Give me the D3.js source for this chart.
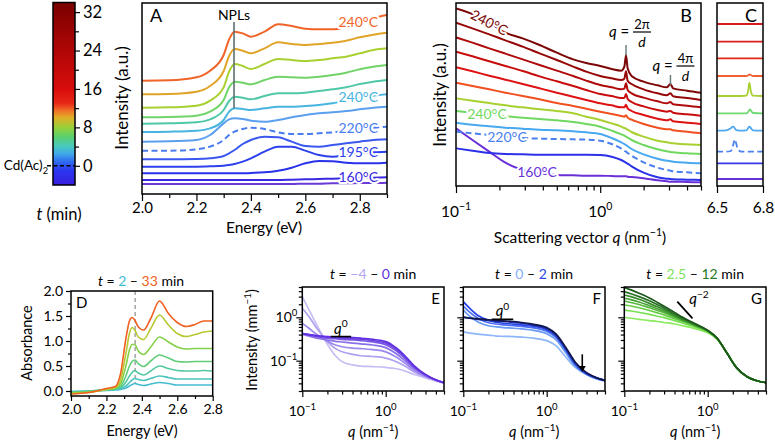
<!DOCTYPE html>
<html><head><meta charset="utf-8">
<script src="https://cdn.jsdelivr.net/npm/d3@7"></script>
<style>body{margin:0;background:#fff}</style></head>
<body><svg id="c" width="775" height="443"></svg>
<script>
// ---------------- DATA ----------------
// colour bar (time in min)
const cbDomain = [-4, 34];
const cbMajor = [0, 8, 16, 24, 32];
const cbMinor = [4, 12, 20, 28];
const cbStopT = [-4, -1, 1, 2.5, 4, 6, 8, 10, 11.5, 13, 16, 24, 34];
const cbStopC = ['#3a1ee0','#2a36ee','#3070f0','#40a8e8','#48c8c0','#58d070','#98d038','#e0b028','#f07028','#e82818','#d80c0c','#b00606','#7a0000'];

// Panel A : spectra (a.u., stacked)
const aEnergy = [2.0,2.1,2.2,2.25,2.3,2.32,2.34,2.37,2.4,2.45,2.5,2.55,2.6,2.65,2.7,2.75,2.8,2.85,2.9];
const aS1 = [343,344,353,373,420,467,490,485,475,490,512,507,499,497,497,505,519,531,540];
const aS2 = [302,303,310,327,372,417,438,433,425,440,458,453,450,453,457,463,473,481,487];
const aS3 = [262,263,268,283,323,370,393,387,378,393,408,405,402,405,410,415,425,435,440];
const aS4 = [233,234,238,250,285,323,340,337,332,345,355,353,352,355,360,367,377,385,390];
const aS5 = [214,215,218,227,255,282,295,292,287,297,305,305,307,312,317,323,333,340,345];
const aS6 = [189,190,193,200,225,250,260,258,255,260,265,265,267,270,275,283,292,298,302];
const aS7 = [160,161,165,180,215,227,230,228,223,220,225,233,240,245,248,252,257,262,265];
const aS8 = [133,133,137,145,165,180,190,198,202,198,188,183,183,185,188,192,197,202,205];
const aS9 = [107,107,108,110,117,125,135,153,165,175,173,160,147,145,150,155,160,165,167];
const aS10 = [85,85,85,86,88,90,93,100,110,130,145,145,133,120,115,120,125,128,130];
const aS11 = [65,65,65,65,65,65,65,65,66,68,73,82,95,102,101,97,95,95,97];
const aS12 = [45,45,45,45,45,45,45,45,45,45,45,46,47,48,49,50,51,52,53];
const aS13 = [33,33,33,33,33,33,33,33,33,33,33,33,34,34,35,35,36,36,37];
const aSeries = [aS1,aS2,aS3,aS4,aS5,aS6,aS7,aS8,aS9,aS10,aS11,aS12,aS13];
const aColors = ['#f06428','#e0a428','#a8d030','#70d468','#50c8a8','#48b4e0','#5aa0ee','#4a7cf0','#3a58f0','#2c40ee','#2832ea','#3a2ae2','#6a3ad8'];
const aDashed = [7];
const aTicks = [2.0,2.2,2.4,2.6,2.8];
const aMinor = [2.1,2.3,2.5,2.7,2.9];
const aLabelText = ['240°C','240°C','220°C','195°C','160°C'];
const aLabelSeries = [0,5,7,9,11];
const aLabelValue = [519,294,201,129,54];
const nplEnergy = 2.338, nplFrom = 260, nplTo = 519;

// Panel B : SAXS (a.u., stacked)
const bQ = [0.1,0.13,0.17,0.22,0.29,0.38,0.5,0.65,0.8,1.0,1.2,1.4,1.47,1.51,1.55,1.65,2.0,2.5,2.9,3.07,3.2,4.0,5.0];
const bS1 = [530,513,487,457,440,420,397,377,366,357,348,343,355,389,350,327,310,299,293,303,290,283,277];
const bS2 = [487,470,452,434,415,395,375,355,340,327,320,315,319,341,313,303,287,275,269,275,266,261,255];
const bS3 = [443,427,410,394,377,360,343,327,313,300,293,287,289,305,285,275,262,251,245,249,242,238,233];
const bS4 = [400,386,371,357,342,326,311,297,285,273,267,261,261,273,258,249,236,225,220,222,217,212,208];
const bS5 = [353,341,328,316,303,290,277,265,255,245,239,233,233,241,230,222,210,199,194,197,191,187,183];
const bS6 = [307,297,287,277,267,257,246,237,229,220,213,207,205,209,202,196,183,172,167,167,164,160,155];
const bS7 = [260,253,246,239,233,227,222,215,205,195,185,175,171,169,166,159,145,133,128,126,125,122,120];
const bS8 = [222,217,212,206,202,198,194,189,183,175,163,152,148,145,142,135,120,107,101,99,98,95,93];
const bS9 = [187,181,176,172,169,166,164,161,158,153,141,128,123,120,116,108,92,79,73,71,70,67,65];
const bS10 = [160,155,150,145,141,139,138,137,136,133,123,109,103,100,96,88,68,52,45,43,41,38,35];
const bS11 = [110,103,96,93,92,91,91,91,91,90,85,75,70,67,64,56,37,23,19,18,17,16,15];
const bS12 = [170,135,100,67,45,35,30,29,28,28,27,26,26,26,25,24,20,14,11,10,10,9,8];
const bSeries = [bS1,bS2,bS3,bS4,bS5,bS6,bS7,bS8,bS9,bS10,bS11,bS12];
const bColors = ['#7c0606','#960808','#b00a0a','#c80c0c','#de1212','#f05020','#a8d030','#70d860','#48a8f0','#4a80f0','#2c30e8','#6a30d8'];
const bDashed = [9];
const bMajor = [0.1, 1];
const bMinor = [0.2,0.3,0.4,0.5,0.6,0.7,0.8,0.9,2,3,4,5];
const bPeak1 = 1.51, bPeak2 = 3.07;

// Panel C : high-q region
const cX = [6.5,6.56,6.59,6.603,6.61,6.617,6.625,6.635,6.66,6.69,6.7,6.706,6.711,6.716,6.722,6.735,6.8];
const cS1 = [483,483,483,483,483,483,483,483,483,483,483,483,483,483,483,483,483];
const cS2 = [430,430,430,430,430,430,430,430,430,430,430,430,430,430,430,430,430];
const cS3 = [380,380,380,380,380,380,380,380,380,380,380,380,380,380,380,380,380];
const cS4 = [327,327,327,327,327,327,327,327,327,327,328,330,332,331,329,327,327];
const cS5 = [267,267,267,267,267,267,267,267,267,268,275,292,307,296,279,268,267];
const cS6 = [215,215,215,215,215,215,215,215,215,215,217,221,225,227,223,216,215];
const cS7 = [163,164,170,175,174,169,165,164,163,164,168,173,175,174,170,164,163];
const cS8 = [100,100,102,115,128,137,125,108,100,100,100,100,100,100,100,100,100];
const cS9 = [65,65,65,65,65,65,65,65,65,65,65,65,65,65,65,65,65];
const cS10 = [18,18,18,18,18,18,18,18,18,18,18,18,18,18,18,18,18];
const cSeries = [cS1,cS2,cS3,cS4,cS5,cS6,cS7,cS8,cS9,cS10];
const cColors = ['#d41c1c','#d82020','#e02a1a','#f06030','#a8d030','#70d870','#50a8f0','#4a80f0','#3838e8','#6a30d8'];
const cDashed = [7];
const cTicks = [6.5, 6.8];

// Panel D : absorbance
const dEnergy = [2.0,2.1,2.2,2.25,2.28,2.31,2.33,2.345,2.36,2.38,2.41,2.45,2.5,2.55,2.6,2.65,2.7,2.75,2.8];
const dS1 = [-0.01,0.0,0.01,0.02,0.03,0.06,0.10,0.13,0.15,0.13,0.11,0.14,0.17,0.15,0.12,0.12,0.12,0.12,0.12];
const dS2 = [-0.01,0.0,0.02,0.03,0.05,0.10,0.17,0.22,0.25,0.23,0.21,0.25,0.30,0.27,0.24,0.24,0.24,0.24,0.24];
const dS3 = [-0.02,0.0,0.03,0.04,0.07,0.18,0.30,0.37,0.41,0.36,0.32,0.40,0.50,0.45,0.41,0.40,0.40,0.41,0.40];
const dS4 = [-0.03,-0.01,0.03,0.05,0.10,0.30,0.50,0.59,0.62,0.55,0.49,0.60,0.72,0.66,0.59,0.58,0.59,0.59,0.59];
const dS5 = [-0.04,-0.02,0.03,0.06,0.15,0.50,0.82,0.93,0.93,0.80,0.73,0.88,1.08,0.98,0.88,0.84,0.85,0.85,0.85];
const dS6 = [-0.05,-0.03,0.03,0.07,0.22,0.75,1.15,1.27,1.22,1.08,1.03,1.25,1.52,1.32,1.15,1.09,1.13,1.18,1.20];
const dS7 = [-0.06,-0.03,0.05,0.09,0.35,1.05,1.40,1.47,1.42,1.28,1.22,1.45,1.80,1.55,1.37,1.29,1.33,1.40,1.40];
const dSeries = [dS1,dS2,dS3,dS4,dS5,dS6,dS7];
const dColors = ['#46bcd2','#4cc4bc','#54c8a0','#60cc78','#84d048','#b8c830','#f06020'];
const dYTicks = [0,0.5,1.0,1.5,2.0], dYMinor = [0.25,0.75,1.25,1.75];
const dXTicks = [2.0,2.2,2.4,2.6,2.8], dXMinor = [2.1,2.3,2.5,2.7];
const dMarker = 2.362;

// Panels E, F, G : SAXS intensity (mm^-1)
const sQ = [0.1,0.12,0.15,0.2,0.25,0.3,0.4,0.5,0.7,1.0,1.3,1.7,2.2,3,4,5];
const eS1 = [2.99,1.5,0.65,0.24,0.13,0.095,0.08,0.075,0.073,0.07,0.066,0.058,0.048,0.04,0.034,0.03];
const eS2 = [1.61,1.05,0.55,0.28,0.19,0.16,0.14,0.13,0.125,0.115,0.097,0.075,0.055,0.042,0.035,0.031];
const eS3 = [0.73,0.56,0.40,0.28,0.23,0.21,0.195,0.19,0.18,0.16,0.125,0.088,0.06,0.044,0.036,0.031];
const eS4 = [0.41,0.37,0.33,0.30,0.28,0.27,0.255,0.245,0.23,0.20,0.15,0.10,0.066,0.046,0.036,0.031];
const eS5 = [0.42,0.39,0.36,0.33,0.32,0.31,0.30,0.29,0.27,0.235,0.175,0.113,0.07,0.047,0.036,0.031];
const eS6 = [0.42,0.40,0.37,0.35,0.34,0.33,0.32,0.31,0.29,0.255,0.19,0.122,0.073,0.047,0.036,0.031];
const eS7 = [0.42,0.40,0.38,0.36,0.355,0.35,0.34,0.33,0.31,0.275,0.205,0.13,0.076,0.048,0.036,0.031];
const eSeries = [eS1,eS2,eS3,eS4,eS5,eS6,eS7];
const eColors = ['#c8bcf4','#b0a0f0','#9c88ec','#8a70e8','#7a58e6','#6e44e2','#6230e0'];

const fS1 = [0.46,0.43,0.41,0.39,0.37,0.365,0.36,0.35,0.33,0.29,0.22,0.12,0.07,0.048,0.038,0.034];
const fS2 = [1.47,1.05,0.78,0.64,0.60,0.58,0.56,0.54,0.50,0.42,0.30,0.15,0.075,0.048,0.038,0.034];
const fS3 = [1.82,1.30,0.95,0.75,0.70,0.67,0.64,0.62,0.57,0.48,0.34,0.17,0.08,0.05,0.039,0.035];
const fS4 = [2.29,1.60,1.10,0.85,0.77,0.73,0.70,0.67,0.62,0.52,0.37,0.18,0.085,0.05,0.04,0.035];
const fS5 = [1.0,0.95,0.90,0.85,0.82,0.80,0.77,0.73,0.66,0.55,0.39,0.19,0.09,0.052,0.04,0.035];
const fS6 = [1.0,0.96,0.92,0.88,0.85,0.83,0.80,0.76,0.69,0.58,0.41,0.20,0.092,0.053,0.04,0.035];
const fSeries = [fS1,fS2,fS3,fS4,fS5,fS6];
const fColors = ['#8cb6f8','#6a9af4','#4a70f0','#2a44e8','#1c2ca8','#12184c'];

const gS1 = [1.0,0.95,0.90,0.84,0.80,0.76,0.70,0.64,0.55,0.44,0.31,0.15,0.07,0.042,0.034,0.031];
const gS2 = [1.47,1.40,1.30,1.17,1.06,0.98,0.84,0.74,0.60,0.46,0.315,0.15,0.07,0.042,0.034,0.031];
const gS3 = [1.92,1.82,1.66,1.44,1.27,1.14,0.93,0.80,0.63,0.47,0.32,0.15,0.07,0.042,0.034,0.031];
const gS4 = [2.38,2.20,1.98,1.66,1.44,1.28,1.00,0.84,0.65,0.48,0.32,0.15,0.07,0.042,0.034,0.031];
const gS5 = [2.75,2.55,2.25,1.85,1.58,1.38,1.06,0.87,0.66,0.49,0.325,0.15,0.07,0.042,0.034,0.031];
const gS6 = [3.27,3.00,2.60,2.10,1.75,1.50,1.12,0.90,0.68,0.49,0.325,0.15,0.07,0.042,0.034,0.031];
const gS7 = [3.90,3.50,3.00,2.40,1.95,1.65,1.20,0.95,0.70,0.50,0.33,0.15,0.07,0.042,0.034,0.031];
const gS8 = [4.90,4.30,3.60,2.80,2.20,1.80,1.30,1.00,0.72,0.50,0.33,0.15,0.07,0.042,0.034,0.031];
const gSeries = [gS1,gS2,gS3,gS4,gS5,gS6,gS7,gS8];
const gColors = ['#8aec5c','#78e050','#66cc46','#56b83c','#46a034','#388a2c','#2a7024','#1c581c'];

const logMajor = [0.1, 1];
const logMinorX = [0.2,0.3,0.4,0.5,0.6,0.7,0.8,0.9,2,3,4,5];
const logMinorY = [0.02,0.03,0.04,0.05,0.06,0.07,0.08,0.09,0.2,0.3,0.4,0.5,0.6,0.7,0.8,0.9,2,3,4,5];

// ---------------- DRAWING ----------------
const FONT = 'Lato, "Liberation Sans", Arial, sans-serif';
const svg = d3.select('#c').attr('font-family', FONT);
let clipId = 0;

function frame(x0, y0, x1, y1) {
  svg.append('rect').attr('x', x0).attr('y', y0).attr('width', x1 - x0).attr('height', y1 - y0)
    .attr('fill', 'none').attr('stroke', '#000').attr('stroke-width', 1.5);
}
function clip(x0, y0, x1, y1) {
  const id = 'cl' + (clipId++);
  svg.append('clipPath').attr('id', id).append('rect')
    .attr('x', x0).attr('y', y0).attr('width', x1 - x0).attr('height', y1 - y0);
  return svg.append('g').attr('clip-path', `url(#${id})`);
}
function ticks(axisFn, scale, pos, horiz, vals, len, fmt, fs, pad) {
  const ax = axisFn(scale).tickValues(vals).tickSize(len).tickPadding(pad || 3)
    .tickFormat(fmt || (() => ''));
  const g = svg.append('g').attr('transform', horiz ? `translate(0,${pos})` : `translate(${pos},0)`).call(ax);
  g.select('.domain').remove();
  g.selectAll('line').attr('stroke', '#000').attr('stroke-width', 1.2);
  g.selectAll('text').attr('font-size', fs || 14).attr('font-family', FONT).attr('fill', '#000');
  return g;
}
function rich(x, y, parts, size, anchor, rot, halo) {
  const t = svg.append('text').attr('x', x).attr('y', y).attr('font-size', size)
    .attr('text-anchor', anchor || 'middle').attr('fill', '#000');
  if (rot) t.attr('transform', `rotate(${rot},${x},${y})`);
  if (halo) t.attr('stroke', '#fff').attr('stroke-width', 4).attr('paint-order', 'stroke').attr('stroke-linejoin', 'round');
  let shift = 0;
  parts.forEach(p => {
    const s = t.append('tspan').text(p.t);
    if (p.c) s.attr('fill', p.c);
    if (p.it) s.attr('font-style', 'italic');
    let target = 0;
    if (p.sup) { target = -size * 0.42; s.attr('font-size', size * 0.68); }
    if (p.sub) { target = size * 0.28; s.attr('font-size', size * 0.68); }
    s.attr('dy', target - shift); shift = target;
  });
  return t;
}
function drawSeries(g, xs, series, colors, dashed, xS, yS, width, curve) {
  const line = d3.line().x(d => xS(d[0])).y(d => yS(d[1])).curve(curve || d3.curveMonotoneX);
  series.forEach((s, i) => {
    g.append('path').datum(xs.map((x, j) => [x, s[j]])).attr('d', line)
      .attr('fill', 'none').attr('stroke', colors[i]).attr('stroke-width', width)
      .attr('stroke-linejoin', 'round')
      .attr('stroke-dasharray', dashed.includes(i) ? '6,3.5' : null);
  });
}

// ---- Colour bar ----
const cbX0 = 53, cbX1 = 75, cbY0 = 2.5, cbY1 = 185;
const cbS = d3.scaleLinear().domain(cbDomain).range([cbY1, cbY0]);
const grad = svg.append('defs').append('linearGradient').attr('id', 'cbg')
  .attr('x1', 0).attr('y1', 1).attr('x2', 0).attr('y2', 0);
cbStopT.forEach((t, i) => grad.append('stop')
  .attr('offset', (t - cbDomain[0]) / (cbDomain[1] - cbDomain[0])).attr('stop-color', cbStopC[i]));
svg.append('rect').attr('x', cbX0).attr('y', cbY0).attr('width', cbX1 - cbX0).attr('height', cbY1 - cbY0)
  .attr('fill', 'url(#cbg)').attr('stroke', '#000').attr('stroke-width', 1.5);
ticks(d3.axisRight, cbS, cbX1, false, cbMajor, 5, d => d, 16.5, 3);
ticks(d3.axisRight, cbS, cbX1, false, cbMinor, 4);
svg.append('line').attr('x1', 47).attr('x2', cbX1).attr('y1', cbS(0)).attr('y2', cbS(0))
  .attr('stroke', '#000').attr('stroke-width', 1.6).attr('stroke-dasharray', '4,2.5');
rich(48, cbS(0) + 4.5, [{t: 'Cd(Ac)'}, {t: '2', sub: true}], 13.5, 'end');
rich(59, 220, [{t: 't', it: true}, {t: ' (min)'}], 16.5, 'middle');

// ---- Panel A ----
const A = {x0: 142, x1: 387, y0: 3, y1: 194};
const xA = d3.scaleLinear().domain([2.0, 2.9]).range([A.x0, A.x1]);
const yA = d3.scaleLinear().domain([3, 576]).range([A.y1, A.y0]);
const gA = clip(A.x0, A.y0, A.x1, A.y1);
drawSeries(gA, aEnergy, aSeries.slice().reverse(), aColors.slice().reverse(), aDashed.map(i => aSeries.length - 1 - i), xA, yA, 2);
svg.append('line').attr('x1', xA(nplEnergy)).attr('x2', xA(nplEnergy)).attr('y1', yA(nplFrom)).attr('y2', yA(nplTo))
  .attr('stroke', '#5f6f70').attr('stroke-width', 1.6);
rich(xA(nplEnergy), 20, [{t: 'NPLs'}], 14, 'middle');
aLabelText.forEach((t, i) => rich(378, yA(aLabelValue[i]) + 5, [{t}], 14, 'end', 0, true).attr('fill', aColors[aLabelSeries[i]]));
frame(A.x0, A.y0, A.x1, A.y1);
ticks(d3.axisBottom, xA, A.y1, true, aTicks, 7, d3.format('.1f'), 15, 1.5);
ticks(d3.axisBottom, xA, A.y1, true, aMinor, 4);
rich(150, 22, [{t: 'A'}], 18, 'start');
rich(264, 233, [{t: 'Energy (eV)'}], 15.5, 'middle');
rich(128, 98, [{t: 'Intensity (a.u.)'}], 17, 'middle', -90);

// ---- Panel B ----
const B = {x0: 456, x1: 701, y0: 3, y1: 186};
const xB = d3.scaleLog().domain([0.1, 5]).range([B.x0, B.x1]);
const yB = d3.scaleLinear().domain([-3, 546]).range([B.y1, B.y0]);
const gB = clip(B.x0, B.y0, B.x1, B.y1);
drawSeries(gB, bQ, bSeries.slice().reverse(), bColors.slice().reverse(), bDashed.map(i => bSeries.length - 1 - i), xB, yB, 2);
[[bPeak1, 420, 390], [bPeak2, 330, 300]].forEach(m => svg.append('line')
  .attr('x1', xB(m[0])).attr('x2', xB(m[0])).attr('y1', yB(m[1])).attr('y2', yB(m[2]))
  .attr('stroke', '#6f7f80').attr('stroke-width', 1.5));
function fracLabel(xq, yBase, num) {
  rich(xq, yBase, [{t: 'q', it: true}, {t: ' ='}], 15, 'start');
  const fx = xq + 33;
  rich(fx, yBase - 8.5, [{t: num}], 13, 'middle');
  svg.append('line').attr('x1', fx - 9).attr('x2', fx + 9).attr('y1', yBase - 5).attr('y2', yBase - 5)
    .attr('stroke', '#000').attr('stroke-width', 1.2);
  rich(fx, yBase + 10, [{t: 'd', it: true}], 14, 'middle');
}
fracLabel(xB(bPeak1) - 17, 37, '2π');
fracLabel(xB(bPeak2) - 18, 71, '4π');
rich(487, 27, [{t: '240°C'}], 14, 'middle', 27, true).attr('fill', bColors[0]);
rich(487, 119, [{t: '240°C'}], 14, 'middle', 0, true).attr('fill', bColors[7]);
rich(507, 142, [{t: '220°C'}], 14, 'middle', 0, true).attr('fill', bColors[9]);
rich(537, 177, [{t: '160°C'}], 14, 'middle', 0, true).attr('fill', bColors[11]);
frame(B.x0, B.y0, B.x1, B.y1);
ticks(d3.axisBottom, xB, B.y1, true, bMajor, 7);
ticks(d3.axisBottom, xB, B.y1, true, bMinor, 4.5);
rich(xB(0.1), 217, [{t: '10'}, {t: '−1', sup: true}], 15.5, 'middle');
rich(xB(1), 217, [{t: '10'}, {t: '0', sup: true}], 15.5, 'middle');
rich(692, 22, [{t: 'B'}], 18, 'end');
rich(580, 243, [{t: 'Scattering vector '}, {t: 'q', it: true}, {t: ' (nm'}, {t: '−1', sup: true}, {t: ')'}], 15.5, 'middle');
rich(446, 95, [{t: 'Intensity (a.u.)'}], 17, 'middle', -90);

// ---- Panel C ----
const C = {x0: 717, x1: 763, y0: 3, y1: 186};
const xC = d3.scaleLinear().domain([6.5, 6.8]).range([C.x0, C.x1]);
const gC = clip(C.x0, C.y0, C.x1, C.y1);
drawSeries(gC, cX, cSeries, cColors, cDashed, xC, yB, 1.8);
frame(C.x0, C.y0, C.x1, C.y1);
ticks(d3.axisBottom, xC, C.y1, true, cTicks, 7, d3.format('.1f'), 15.5, 9);
rich(757, 22, [{t: 'C'}], 18, 'end');

// ---- Panel D ----
const D = {x0: 71, x1: 212.7, y0: 291, y1: 396};
const xD = d3.scaleLinear().domain([2.0, 2.8]).range([D.x0, D.x1]);
const yD = d3.scaleLinear().domain([-0.1, 2.0]).range([D.y1, D.y0]);
const gD = clip(D.x0, D.y0, D.x1, D.y1);
gD.append('line').attr('x1', xD(dMarker)).attr('x2', xD(dMarker)).attr('y1', yD(2.0)).attr('y2', yD(0.16))
  .attr('stroke', '#777').attr('stroke-width', 1).attr('stroke-dasharray', '4,3');
drawSeries(gD, dEnergy, dSeries, dColors, [], xD, yD, 1.6);
frame(D.x0, D.y0, D.x1, D.y1);
ticks(d3.axisLeft, yD, D.x0, false, dYTicks, 5, d3.format('.1f'), 14, 3);
ticks(d3.axisLeft, yD, D.x0, false, dYMinor, 3);
ticks(d3.axisBottom, xD, D.y1, true, dXTicks, 5, d3.format('.1f'), 14, 3);
ticks(d3.axisBottom, xD, D.y1, true, dXMinor, 3);
rich(76, 308, [{t: 'D'}], 15, 'start');
rich(141, 286, [{t: 't', it: true}, {t: ' = '}, {t: '2', c: '#40bcd0'}, {t: ' – '}, {t: '33', c: '#f06020'}, {t: ' min'}], 14, 'middle');
rich(142, 436, [{t: 'Energy (eV)'}], 14.5, 'middle');
rich(32, 343, [{t: 'Absorbance'}], 14.5, 'middle', -90);

// ---- Panels E, F, G ----
function sasPanel(x0, x1, series, colors, label, title, showY) {
  const P = {x0, x1, y0: 287, y1: 391};
  const xs = d3.scaleLog().domain([0.1, 5]).range([x0, x1]);
  const ys = d3.scaleLog().domain([0.02, 5]).range([P.y1, P.y0]);
  const g = clip(x0, P.y0, x1, P.y1);
  drawSeries(g, sQ, series, colors, [], xs, ys, 1.7);
  frame(x0, P.y0, x1, P.y1);
  ticks(d3.axisLeft, ys, x0, false, logMajor, 6);
  ticks(d3.axisLeft, ys, x0, false, logMinorY, 3.5);
  ticks(d3.axisBottom, xs, P.y1, true, logMajor, 6);
  ticks(d3.axisBottom, xs, P.y1, true, logMinorX, 3.5);
  rich(xs(0.1), 416, [{t: '10'}, {t: '−1', sup: true}], 14, 'middle');
  rich(xs(1), 416, [{t: '10'}, {t: '0', sup: true}], 14, 'middle');
  if (showY) {
    rich(x0 - 5, ys(1) + 5, [{t: '10'}, {t: '0', sup: true}], 14, 'end');
    rich(x0 - 5, ys(0.1) + 5, [{t: '10'}, {t: '−1', sup: true}], 14, 'end');
  }
  rich(x1 - 4, 304, [{t: label}], 15, 'end');
  rich((x0 + x1) / 2, 279, title, 14, 'middle');
  rich((x0 + x1) / 2, 437, [{t: 'q', it: true}, {t: ' (nm'}, {t: '−1', sup: true}, {t: ')'}], 14.5, 'middle');
  return {xs, ys};
}
const E = sasPanel(302.3, 444, eSeries, eColors, 'E',
  [{t: 't', it: true}, {t: ' = '}, {t: '−4', c: '#b4a4f0'}, {t: ' – '}, {t: '0', c: '#6030e0'}, {t: ' min'}], true);
const F = sasPanel(463.3, 605, fSeries, fColors, 'F',
  [{t: 't', it: true}, {t: ' = '}, {t: '0', c: '#80b0f8'}, {t: ' – '}, {t: '2', c: '#2848e8'}, {t: ' min'}], false);
const G = sasPanel(624.3, 766, gSeries, gColors, 'G',
  [{t: 't', it: true}, {t: ' = '}, {t: '2.5', c: '#80e060'}, {t: ' – '}, {t: '12', c: '#2a7a24'}, {t: ' min'}], false);
rich(257, 340, [{t: 'Intensity (mm'}, {t: '−1', sup: true}, {t: ')'}], 14.5, 'middle', -90);

function seg(P, q0, v0, q1, v1, w) {
  svg.append('line').attr('x1', P.xs(q0)).attr('y1', P.ys(v0)).attr('x2', P.xs(q1)).attr('y2', P.ys(v1))
    .attr('stroke', '#000').attr('stroke-width', w || 1.6);
}
seg(E, 0.22, 0.36, 0.385, 0.36);
rich(E.xs(0.29), E.ys(0.36) - 3, [{t: 'q', it: true}, {t: '0', sup: true}], 15, 'middle');
seg(F, 0.219, 0.9, 0.397, 0.9);
rich(F.xs(0.295), F.ys(0.9) - 3, [{t: 'q', it: true}, {t: '0', sup: true}], 15, 'middle');
seg(G, 0.432, 2.29, 0.657, 0.948, 1.8);
rich(G.xs(0.6), G.ys(2.0), [{t: 'q', it: true}, {t: '−2', sup: true}], 15, 'start');
const ax = F.xs(2.67);
svg.append('line').attr('x1', ax).attr('x2', ax).attr('y1', F.ys(0.14)).attr('y2', F.ys(0.07))
  .attr('stroke', '#000').attr('stroke-width', 1.6);
svg.append('path').attr('d', `M${ax - 3.5},${F.ys(0.075)} L${ax + 3.5},${F.ys(0.075)} L${ax},${F.ys(0.055)} Z`).attr('fill', '#000');
</script></body></html>
